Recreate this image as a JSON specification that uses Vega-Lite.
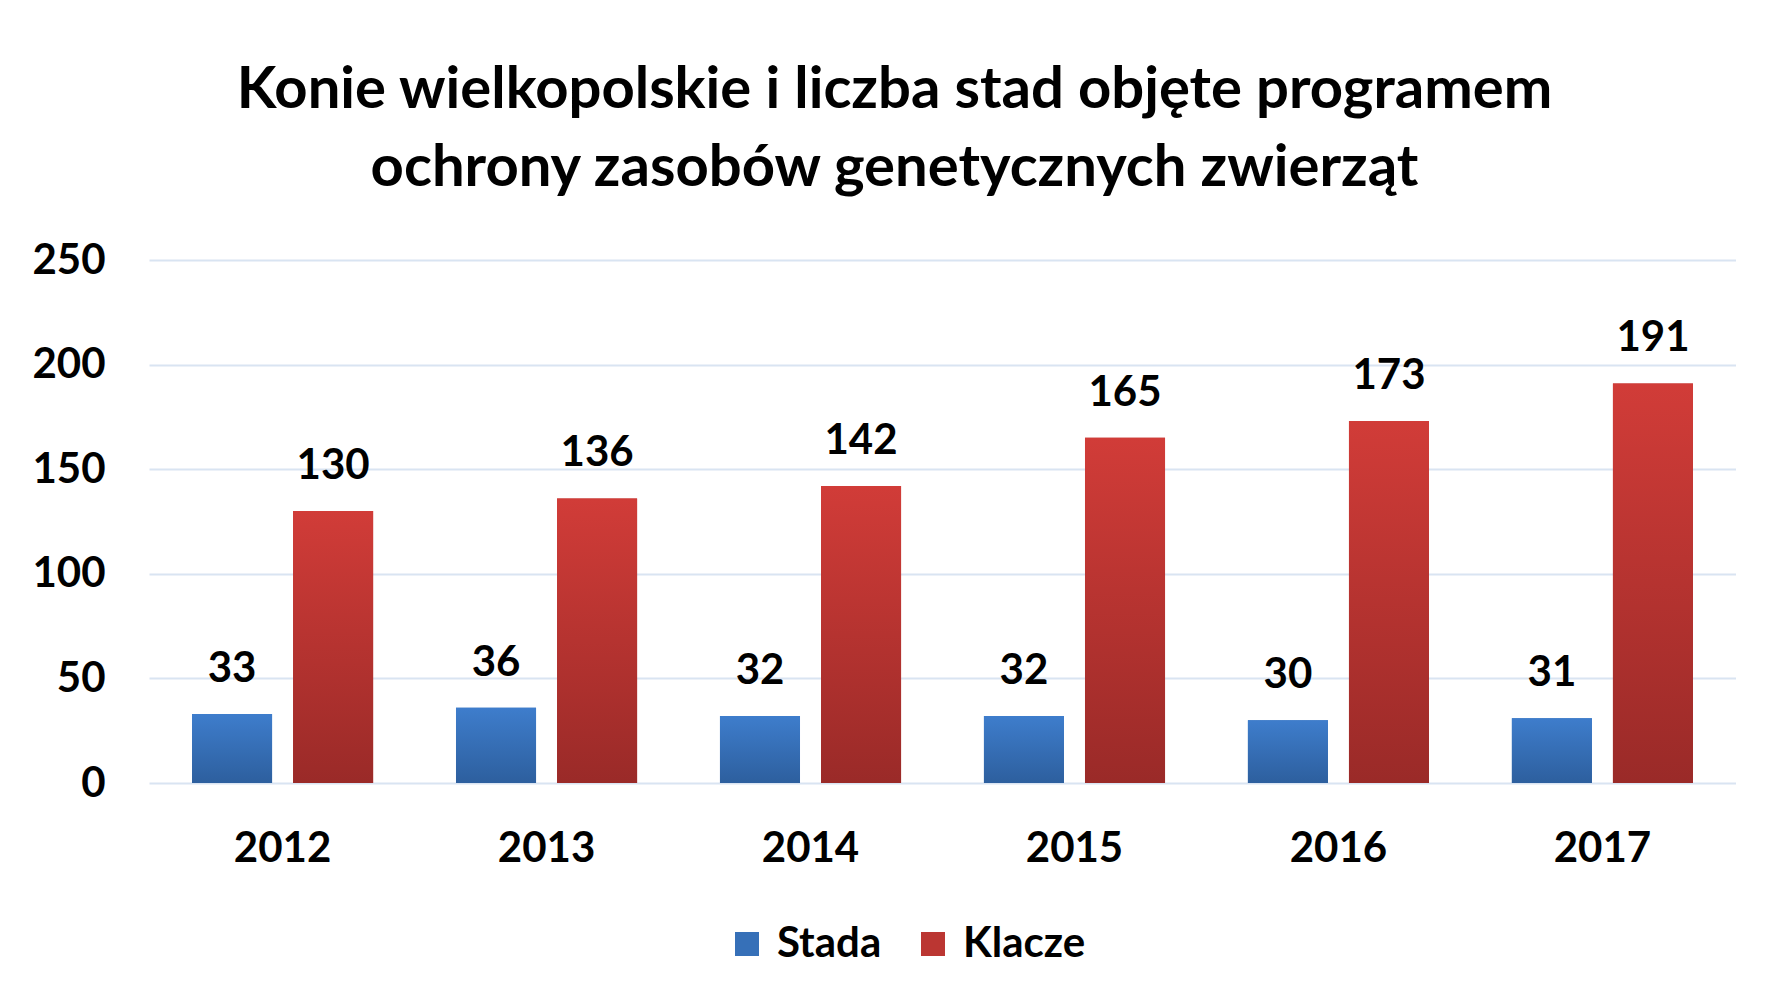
{
  "$schema": "https://vega.github.io/schema/vega-lite/v6.json",
  "width": 1587,
  "height": 523,
  "padding": {"left": 9, "top": 62, "right": 0, "bottom": 0},
  "background": "white",
  "title": {
    "text": ["Konie wielkopolskie i liczba stad objęte programem", "ochrony zasobów genetycznych zwierząt"],
    "font": "Lato",
    "fontSize": 58,
    "fontWeight": "bold",
    "color": "#000000",
    "lineHeight": 78,
    "anchor": "middle",
    "dx": -48,
    "offset": 41
  },
  "data": {
    "values": [
      {"year": "2012", "series": "Stada", "value": 33},
      {"year": "2012", "series": "Klacze", "value": 130},
      {"year": "2013", "series": "Stada", "value": 36},
      {"year": "2013", "series": "Klacze", "value": 136},
      {"year": "2014", "series": "Stada", "value": 32},
      {"year": "2014", "series": "Klacze", "value": 142},
      {"year": "2015", "series": "Stada", "value": 32},
      {"year": "2015", "series": "Klacze", "value": 165},
      {"year": "2016", "series": "Stada", "value": 30},
      {"year": "2016", "series": "Klacze", "value": 173},
      {"year": "2017", "series": "Stada", "value": 31},
      {"year": "2017", "series": "Klacze", "value": 191}
    ]
  },
  "encoding": {
    "x": {
      "field": "year", "type": "nominal",
      "scale": {"paddingInner": 0.314, "paddingOuter": 0.163},
      "axis": {
        "title": null, "labelAngle": 0, "domain": false, "ticks": false,
        "labelFont": "Lato", "labelFontSize": 42, "labelFontWeight": "bold",
        "labelColor": "#000000", "labelPadding": 45
      }
    },
    "xOffset": {
      "field": "series", "type": "nominal", "sort": ["Stada", "Klacze"],
      "scale": {"paddingInner": 0.208, "paddingOuter": 0}
    },
    "y": {
      "field": "value", "type": "quantitative",
      "scale": {"domain": [0, 250], "nice": false},
      "axis": {
        "title": null, "values": [0, 50, 100, 150, 200, 250],
        "domain": false, "ticks": false,
        "grid": true, "gridColor": "#d9e4f2", "gridWidth": 2,
        "labelFont": "Lato", "labelFontSize": 42, "labelFontWeight": "bold",
        "labelColor": "#000000", "labelPadding": 44,
        "minExtent": 140, "maxExtent": 140
      }
    }
  },
  "layer": [
    {
      "mark": {"type": "bar"},
      "encoding": {
        "color": {
          "field": "series", "type": "nominal", "sort": ["Stada", "Klacze"],
          "scale": {"domain": ["Stada", "Klacze"], "range": ["#3670b8", "#bb3632"]},
          "legend": {
            "title": null, "orient": "none", "direction": "horizontal",
            "legendX": 577, "legendY": 663, "padding": 0,
            "symbolType": "square", "symbolSize": 576, "symbolStrokeWidth": 0,
            "labelFont": "Lato", "labelFontSize": 42, "labelFontWeight": "bold",
            "labelColor": "#000000", "labelOffset": 9, "columnPadding": 30,
            "labelLimit": 400
          }
        }
      }
    },
    {
      "mark": {"type": "bar"},
      "encoding": {
        "fill": {
          "condition": {
            "test": "datum.series === 'Stada'",
            "value": {
              "gradient": "linear", "x1": 0, "y1": 0, "x2": 0, "y2": 1,
              "stops": [{"offset": 0, "color": "#3e7dcc"}, {"offset": 1, "color": "#2d5f9e"}]
            }
          },
          "value": {
            "gradient": "linear", "x1": 0, "y1": 0, "x2": 0, "y2": 1,
            "stops": [{"offset": 0, "color": "#d13c38"}, {"offset": 1, "color": "#9a2a28"}]
          }
        }
      }
    },
    {
      "mark": {
        "type": "text", "baseline": "alphabetic", "dy": -32,
        "font": "Lato", "fontSize": 42, "fontWeight": "bold", "color": "#000000"
      },
      "encoding": {
        "text": {"field": "value", "type": "quantitative"}
      }
    }
  ],
  "config": {
    "view": {"stroke": null}
  }
}
